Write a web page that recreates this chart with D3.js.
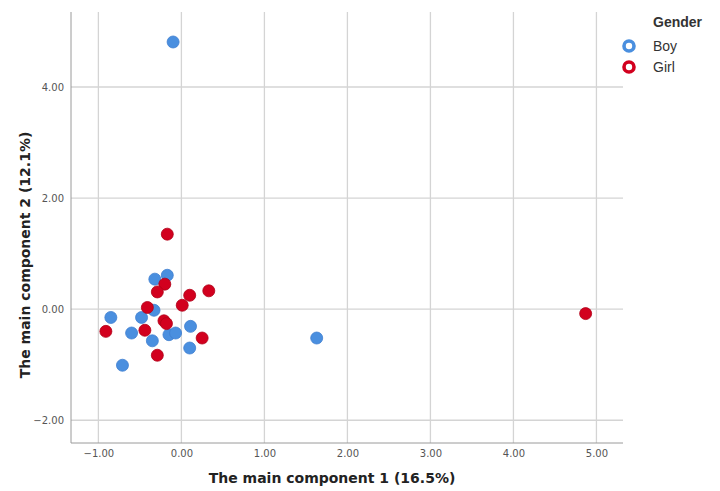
<!DOCTYPE html>
<html lang="en">
<head>
<meta charset="UTF-8">
<title>PCA scatter</title>
<script src="https://cdn.jsdelivr.net/npm/d3@7"></script>
<style>
    body { margin: 0; background: #fff; }
    .grid line { stroke: #d4d4d4; stroke-width: 1.3; }
    .axis path, .axis line { fill: none; stroke: #9a9a9a; }
    .axis text { font-family: "DejaVu Sans", sans-serif; font-size: 10px; fill: #555; }
    .title { font-family: "DejaVu Sans", sans-serif; font-size: 14px; font-weight: bold; fill: #222; }
    .legend text { font-family: "Liberation Sans", Arial, sans-serif; font-size: 14px; fill: #333; }
</style>
</head>
<body>
<script>
var width = 720, height = 491;
var margin = {left: 71, right: 97, top: 12, bottom: 48};

// data
var boyX  = [-0.10, 1.63, -0.32, -0.17, -0.33, -0.85, -0.48, -0.60, -0.35, -0.15, -0.07, 0.11, 0.10, -0.71];
var boyY  = [4.81, -0.52, 0.54, 0.61, -0.02, -0.15, -0.15, -0.43, -0.57, -0.46, -0.43, -0.31, -0.70, -1.01];
var girlX = [4.87, -0.17, -0.20, -0.29, 0.10, 0.33, 0.01, -0.41, -0.21, -0.18, -0.44, -0.91, 0.25, -0.29];
var girlY = [-0.08, 1.35, 0.45, 0.31, 0.25, 0.33, 0.07, 0.03, -0.21, -0.26, -0.38, -0.40, -0.52, -0.83];
var xTicks = [-1, 0, 1, 2, 3, 4, 5];
var yTicks = [-2, 0, 2, 4];
var groups = ["Boy", "Girl"];
var colors = {Boy: "#4a8fdf", Girl: "#d2001e"};

var svg = d3.select("body").append("svg")
    .attr("width", width)
    .attr("height", height);

var xScale = d3.scaleLinear().domain([-1.33, 5.32]).range([margin.left, width - margin.right]);
var yScale = d3.scaleLinear().domain([-2.41, 5.35]).range([height - margin.bottom, margin.top]);

// grid
var grid = svg.append("g").attr("class", "grid");
grid.selectAll(".vx").data(xTicks).enter().append("line")
    .attr("x1", d => xScale(d)).attr("x2", d => xScale(d))
    .attr("y1", margin.top).attr("y2", height - margin.bottom);
grid.selectAll(".hy").data(yTicks).enter().append("line")
    .attr("x1", margin.left).attr("x2", width - margin.right)
    .attr("y1", d => yScale(d)).attr("y2", d => yScale(d));

// axes
var fmt = d3.format(".2f");
svg.append("g").attr("class", "axis")
    .attr("transform", "translate(0," + (height - margin.bottom) + ")")
    .call(d3.axisBottom(xScale).tickValues(xTicks).tickFormat(fmt).tickSize(0).tickPadding(7))
    .call(g => g.select(".domain").attr("d", "M" + margin.left + ",0H" + (width - margin.right)));
svg.append("g").attr("class", "axis")
    .attr("transform", "translate(" + margin.left + ",0)")
    .call(d3.axisLeft(yScale).tickValues(yTicks).tickFormat(fmt).tickSize(0).tickPadding(7))
    .call(g => g.select(".domain").attr("d", "M0," + margin.top + "V" + (height - margin.bottom)));

// points: boys first, girls on top
var boys = boyX.map((x, i) => ({x: x, y: boyY[i]}));
var girls = girlX.map((x, i) => ({x: x, y: girlY[i]}));
svg.append("g").selectAll("circle").data(boys).enter().append("circle")
    .attr("cx", d => xScale(d.x)).attr("cy", d => yScale(d.y)).attr("r", 6)
    .attr("fill", colors.Boy).attr("stroke", "#3f7fd0").attr("stroke-width", 0.8);
svg.append("g").selectAll("circle").data(girls).enter().append("circle")
    .attr("cx", d => xScale(d.x)).attr("cy", d => yScale(d.y)).attr("r", 6)
    .attr("fill", colors.Girl).attr("stroke", "#b00018").attr("stroke-width", 0.8);

// titles
svg.append("text").attr("class", "title")
    .attr("x", 332).attr("y", 483).attr("text-anchor", "middle")
    .text("The main component 1 (16.5%)");
svg.append("text").attr("class", "title")
    .attr("transform", "translate(30,255) rotate(-90)").attr("text-anchor", "middle")
    .text("The main component 2 (12.1%)");

// legend
var legend = svg.append("g").attr("class", "legend");
legend.append("text").attr("x", 653).attr("y", 27)
    .attr("font-weight", "bold").attr("fill", "#222").text("Gender");
var items = legend.selectAll(".item").data(groups).enter().append("g")
    .attr("transform", (d, i) => "translate(629," + (46 + i * 21) + ")");
items.append("circle").attr("r", 5).attr("fill", "#fff")
    .attr("stroke", d => colors[d]).attr("stroke-width", 3.6);
items.append("text").attr("x", 24).attr("y", 5).text(d => d);
</script>
</body>
</html>
